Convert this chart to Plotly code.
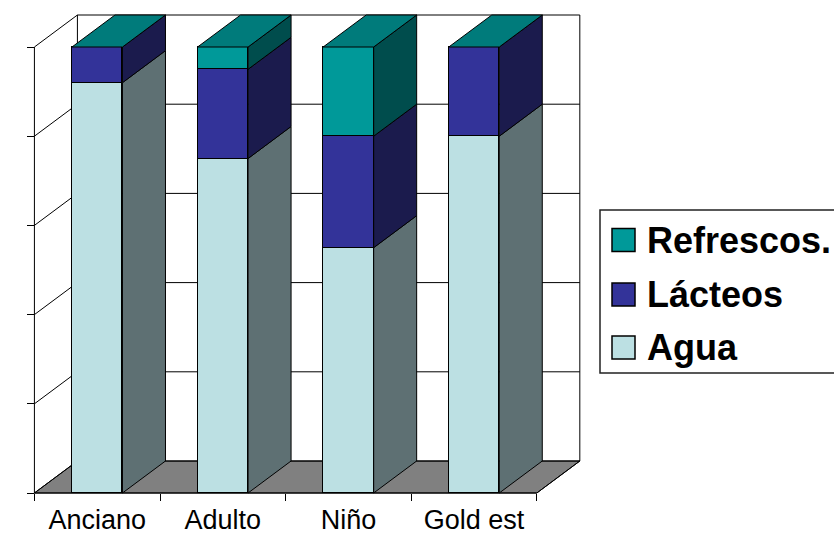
import plotly.graph_objects as go

# ---- data (percent of daily fluid intake) ----
categories = ["Anciano", "Adulto", "Niño", "Gold est"]
agua = [92, 75, 55, 80]
lacteos = [8, 20, 25, 20]
refrescos = [0, 5, 20, 0]
series_names = ["Agua", "Lácteos", "Refrescos."]
y_ticks = [0, 20, 40, 60, 80, 100]

# ---- geometry / style ----
W, H = 834, 546
X_RANGE = [-0.774, 5.866]      # 1 category ~ 125.6 px
Y_RANGE = [-11.883, 110.538]   # 1 % ~ 4.46 px
PX_X = W / (X_RANGE[1] - X_RANGE[0])
PX_Y = H / (Y_RANGE[1] - Y_RANGE[0])
DX = 43 / PX_X                 # depth offset of the 3-D box (x units)
DY = 32 / PX_Y                 # depth offset of the 3-D box (y units)
BAR_W = 50.5 / PX_X

FRONT = ["#BCE0E3", "#333399", "#009999"]
SIDE = ["#5E7073", "#1B1B4D", "#004D4D"]
TOP = "#007B7B"
FLOOR = "#808080"
FONT = "Liberation Sans, Arial, sans-serif"

x_idx = list(range(len(categories)))
x_lo, x_hi = -0.5, len(categories) - 0.5
y_top = max(y_ticks)

fig = go.Figure()

# front faces of the stacked columns
stacks = [agua, lacteos, refrescos]
for name, vals, col in zip(series_names, stacks, FRONT):
    fig.add_trace(go.Bar(
        x=x_idx, y=vals, name=name, width=BAR_W,
        marker=dict(color=col, line=dict(color="black", width=1)),
        showlegend=False, hoverinfo="skip",
    ))

# right-hand side faces
base = [0] * len(categories)
for name, vals, col in zip(series_names, stacks, SIDE):
    xs, ys = [], []
    for i, v in enumerate(vals):
        b, t = base[i], base[i] + v
        if v > 0:
            xr = i + BAR_W / 2
            xs += [xr, xr + DX, xr + DX, xr, xr, None]
            ys += [b, b + DY, t + DY, t, b, None]
        base[i] = t
    fig.add_trace(go.Scatter(
        x=xs, y=ys, mode="lines", fill="toself", fillcolor=col,
        line=dict(color="black", width=1), showlegend=False, hoverinfo="skip",
    ))

# top faces
xs, ys = [], []
for i, t in enumerate(base):
    xl, xr = i - BAR_W / 2, i + BAR_W / 2
    xs += [xl, xr, xr + DX, xl + DX, xl, None]
    ys += [t, t, t + DY, t + DY, t, None]
fig.add_trace(go.Scatter(
    x=xs, y=ys, mode="lines", fill="toself", fillcolor=TOP,
    line=dict(color="black", width=1), showlegend=False, hoverinfo="skip",
))

# ---- walls, floor and gridlines ----
shapes = []
line_k = dict(color="black", width=1)
shapes.append(dict(
    type="path", xref="x", yref="y", layer="below",
    path=f"M{x_lo},0 L{x_hi},0 L{x_hi + DX},{DY} L{x_lo + DX},{DY} Z",
    fillcolor=FLOOR, line=line_k,
))
for v in y_ticks:
    # back wall gridline
    shapes.append(dict(type="line", xref="x", yref="y", layer="below",
                       x0=x_lo + DX, x1=x_hi + DX, y0=v + DY, y1=v + DY, line=line_k))
    # side wall diagonal
    shapes.append(dict(type="line", xref="x", yref="y", layer="below",
                       x0=x_lo, x1=x_lo + DX, y0=v, y1=v + DY, line=line_k))
for xb in (x_lo + DX, x_hi + DX):
    shapes.append(dict(type="line", xref="x", yref="y", layer="below",
                       x0=xb, x1=xb, y0=DY, y1=y_top + DY, line=line_k))
shapes.append(dict(type="line", xref="x", yref="y", layer="below",
                   x0=x_lo, x1=x_lo, y0=0, y1=y_top, line=line_k))
shapes.append(dict(type="line", xref="x", yref="y", layer="below",
                   x0=x_lo, x1=x_hi, y0=0, y1=0, line=line_k))
shapes.append(dict(type="line", xref="x", yref="y", layer="below",
                   x0=x_hi, x1=x_hi + DX, y0=0, y1=DY, line=line_k))

# ---- legend box ----
def px_x(p):
    return p / W

def px_y(p):
    return 1 - p / H

legend_rows = [("Refrescos.", FRONT[2], 240), ("Lácteos", FRONT[1], 294.5), ("Agua", FRONT[0], 347.5)]
shapes.append(dict(type="rect", xref="paper", yref="paper",
                   x0=px_x(600), x1=px_x(850), y0=px_y(210), y1=px_y(373),
                   line=dict(color="#222222", width=1.5), fillcolor="white"))
annotations = []
for label, col, yc in legend_rows:
    shapes.append(dict(type="rect", xref="paper", yref="paper",
                       x0=px_x(612), x1=px_x(635), y0=px_y(yc - 11.5), y1=px_y(yc + 11.5),
                       line=dict(color="black", width=1.5), fillcolor=col))
    annotations.append(dict(xref="paper", yref="paper", x=px_x(645), y=px_y(yc),
                            xanchor="left", yanchor="middle", showarrow=False, text=label,
                            font=dict(family=FONT, size=36, color="black", weight="bold")))

x_axis_pos = (0 - Y_RANGE[0]) / (Y_RANGE[1] - Y_RANGE[0])
y_axis_pos = (x_lo - X_RANGE[0]) / (X_RANGE[1] - X_RANGE[0])

fig.update_layout(
    width=W, height=H, margin=dict(l=0, r=0, t=0, b=0),
    paper_bgcolor="white", plot_bgcolor="white",
    barmode="stack", bargap=0, showlegend=False,
    shapes=shapes, annotations=annotations,
    xaxis=dict(range=X_RANGE, anchor="free", position=x_axis_pos,
               tickmode="array", tickvals=x_idx, ticktext=categories,
               ticks="", ticklabelstandoff=8,
               tickfont=dict(family=FONT, size=27, color="black"),
               minor=dict(tickmode="array", tickvals=[i - 0.5 for i in range(len(categories) + 1)],
                          ticks="outside", ticklen=7, tickcolor="black", tickwidth=1, showgrid=False),
               showline=False, showgrid=False, zeroline=False, fixedrange=True),
    yaxis=dict(range=Y_RANGE, anchor="free", position=y_axis_pos,
               tickmode="array", tickvals=y_ticks, ticks="outside", ticklen=7,
               tickcolor="black", tickwidth=1, showticklabels=False,
               showline=False, showgrid=False, zeroline=False, fixedrange=True),
)

fig.write_html("out.html")
